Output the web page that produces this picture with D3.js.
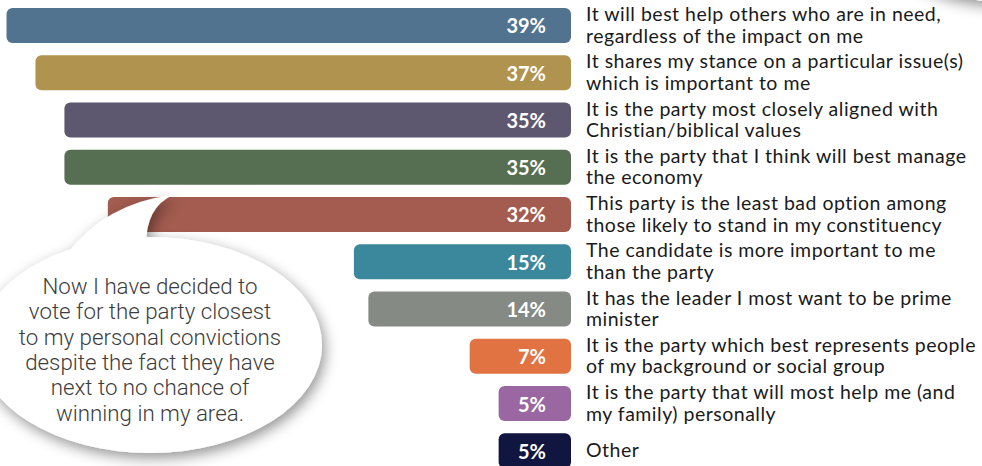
<!DOCTYPE html>
<html>
<head>
<meta charset="utf-8">
<script src="https://cdn.jsdelivr.net/npm/d3@7"></script>
<style>
  html, body { margin: 0; padding: 0; background: #ffffff; }
  svg { display: block; }
</style>
</head>
<body>
<svg id="chart" width="982" height="466"></svg>
<script>
// Reasons for choosing a party, share of respondents (%)
const reasons = [
  ["It will best help others who are in need,", "regardless of the impact on me"],
  ["It shares my stance on a particular issue(s)", "which is important to me"],
  ["It is the party most closely aligned with", "Christian/biblical values"],
  ["It is the party that I think will best manage", "the economy"],
  ["This party is the least bad option among", "those likely to stand in my constituency"],
  ["The candidate is more important to me", "than the party"],
  ["It has the leader I most want to be prime", "minister"],
  ["It is the party which best represents people", "of my background or social group"],
  ["It is the party that will most help me (and", "my family) personally"],
  ["Other"]
];
const shares = [39, 37, 35, 35, 32, 15, 14, 7, 5, 5];
const barColors = ["#52738f", "#b0934e", "#5d5870", "#566f52", "#a35c4f",
                   "#3b889d", "#858a85", "#e07341", "#9a67a3", "#10163f"];
const quoteLines = [
  "Now I have decided to",
  "vote for the party closest",
  "to my personal convictions",
  "despite the fact they have",
  "next to no chance of",
  "winning in my area."
];

const svg = d3.select("#chart");
const rows = reasons.map((r, i) => ({ lines: r, value: shares[i], color: barColors[i], key: i }));

// Bars grow leftwards from a common right edge
const barRight = 571;
const x = d3.scaleLinear().domain([0, 39.45]).range([barRight, 0]);
const y = d3.scaleBand()
  .domain(rows.map(d => d.key))
  .range([8, 468.25])
  .paddingInner(0.2593)
  .paddingOuter(0)
  .align(0);

const defs = svg.append("defs");
const shadow = defs.append("filter")
  .attr("id", "soft-shadow")
  .attr("x", "-30%").attr("y", "-30%")
  .attr("width", "160%").attr("height", "160%");
shadow.append("feDropShadow")
  .attr("dx", 3).attr("dy", 5)
  .attr("stdDeviation", 7)
  .attr("flood-color", "#000")
  .attr("flood-opacity", 0.42);

const bars = svg.append("g").attr("class", "bars");
bars.selectAll("rect")
  .data(rows)
  .join("rect")
  .attr("x", d => x(d.value))
  .attr("y", d => y(d.key))
  .attr("width", d => barRight - x(d.value))
  .attr("height", y.bandwidth())
  .attr("rx", 6).attr("ry", 6)
  .attr("fill", d => d.color);

bars.selectAll("text.value")
  .data(rows)
  .join("text")
  .attr("class", "value")
  .attr("x", barRight - 25)
  .attr("y", d => y(d.key) + y.bandwidth() / 2 + 8)
  .attr("text-anchor", "end")
  .attr("fill", "#ffffff")
  .style("font-family", "Lato, 'Open Sans', sans-serif")
  .style("font-weight", 700)
  .style("font-size", "20px")
  .text(d => d.value + "%");

// Category descriptions to the right of the bars
const labels = svg.append("g").attr("class", "labels");
labels.selectAll("text")
  .data(rows)
  .join("text")
  .attr("x", 586)
  .attr("fill", "#1a1a1a")
  .style("font-family", "Lato, 'Open Sans', sans-serif")
  .style("font-size", "19.5px")
  .style("letter-spacing", "0.5px")
  .each(function (d) {
    const t = d3.select(this);
    const top = y(d.key);
    if (d.lines.length === 1) {
      t.append("tspan").attr("x", 586).attr("y", top + y.bandwidth() / 2 + 6.5).text(d.lines[0]);
    } else {
      d.lines.forEach((line, j) => {
        t.append("tspan").attr("x", 586).attr("y", top + 13 + j * 21.5).text(line);
      });
    }
  });

// Speech bubble partly off the top-right edge
svg.append("ellipse")
  .attr("cx", 1010).attr("cy", -40)
  .attr("rx", 110).attr("ry", 42)
  .attr("fill", "#ffffff")
  .attr("filter", "url(#soft-shadow)");

// Quote bubble with its tail pointing up and to the right
const bubble = svg.append("g").attr("filter", "url(#soft-shadow)");
const cx = 150, cy = 345, rx = 172, ry = 108;
bubble.append("ellipse")
  .attr("cx", cx).attr("cy", cy)
  .attr("rx", rx).attr("ry", ry)
  .attr("fill", "#ffffff");
const tail = d3.path();
tail.moveTo(66, 255);
tail.quadraticCurveTo(105, 203, 173, 195);
tail.quadraticCurveTo(146, 207, 146, 245);
tail.closePath();
bubble.append("path")
  .attr("d", tail.toString())
  .attr("fill", "#ffffff");

svg.append("g")
  .selectAll("text")
  .data(quoteLines)
  .join("text")
  .attr("x", 150)
  .attr("y", (d, i) => 294 + i * 25.3)
  .attr("text-anchor", "middle")
  .attr("fill", "#3c3c3c")
  .style("font-family", "Roboto, sans-serif")
  .style("font-weight", 300)
  .style("font-size", "22.3px")
  .text(d => d);
</script>
</body>
</html>
